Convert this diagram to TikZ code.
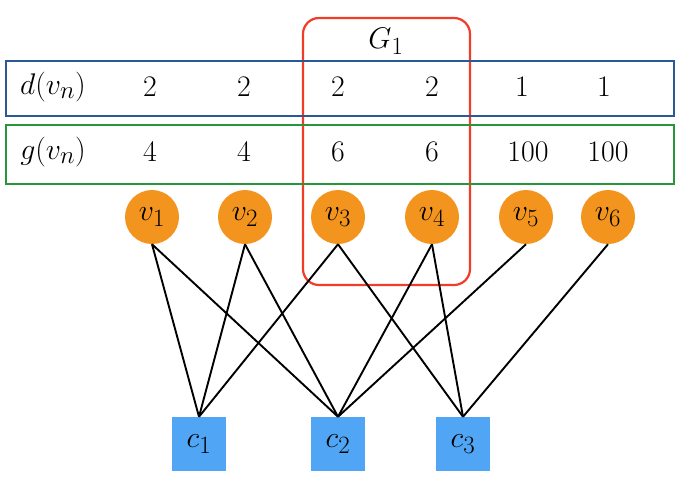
\documentclass[tikz,border=0pt]{standalone}
\definecolor{vorange}{RGB}{243,148,30}
\definecolor{cblue}{RGB}{80,165,245}
\definecolor{rowblue}{RGB}{40,90,150}
\definecolor{rowgreen}{RGB}{40,150,60}
\definecolor{gred}{RGB}{240,60,40}
\begin{document}
\begin{tikzpicture}[x=1pt,y=-1pt,
  every node/.style={font=\Huge,scale=1.2},
  vnode/.style={circle,fill=vorange,minimum size=45pt,inner sep=0pt},
  cnode/.style={rectangle,fill=cblue,minimum width=44.5pt,minimum height=45pt,inner sep=0pt},
  link/.style={line width=1.9pt,black},
  val/.style={inner sep=0pt}]
\useasboundingbox (0,0) rectangle (686,483);
% group box
\draw[gred,line width=2.2pt,rounded corners=16pt] (303,18) rectangle (470,285);
\node[val] (G) at (386,41) {$G_1$};
% rows
\draw[rowblue,line width=2.6pt] (6,61) rectangle (674,116);
\draw[rowgreen,line width=2.6pt] (6,125) rectangle (674,184);
\node[val] (dl) at (53,87) {$d(v_n)$};
\node[val] (gl) at (53,152) {$g(v_n)$};
\foreach \x/\y/\d/\g [count=\i] in {150/150/2/4,244/244/2/4,338/338/2/6,432/432/2/6,522/528/1/100,604/608/1/100}{
  \node[val] (d\i) at (\x,87) {$\d$};
  \node[val] (g\i) at (\y,152) {$\g$};
}
% variable nodes
\foreach \x [count=\i] in {152,245,338,432,526,608}{
  \node[vnode] (v\i) at (\x,217) {$v_{\i}$};
}
% check nodes
\node[cnode] (c1) at (199,444) {$c_1$};
\node[cnode] (c2) at (338,444) {$c_2$};
\node[cnode] (c3) at (463,444) {$c_3$};
% edges
\draw[link] (v1.south) -- (c1.north);
\draw[link] (v1.south) -- (c2.north);
\draw[link] (v2.south) -- (c1.north);
\draw[link] (v2.south) -- (c2.north);
\draw[link] (v3.south) -- (c1.north);
\draw[link] (v3.south) -- (c3.north);
\draw[link] (v4.south) -- (c2.north);
\draw[link] (v4.south) -- (c3.north);
\draw[link] (v5.south) -- (c2.north);
\draw[link] (v6.south) -- (c3.north);
\end{tikzpicture}
\end{document}
